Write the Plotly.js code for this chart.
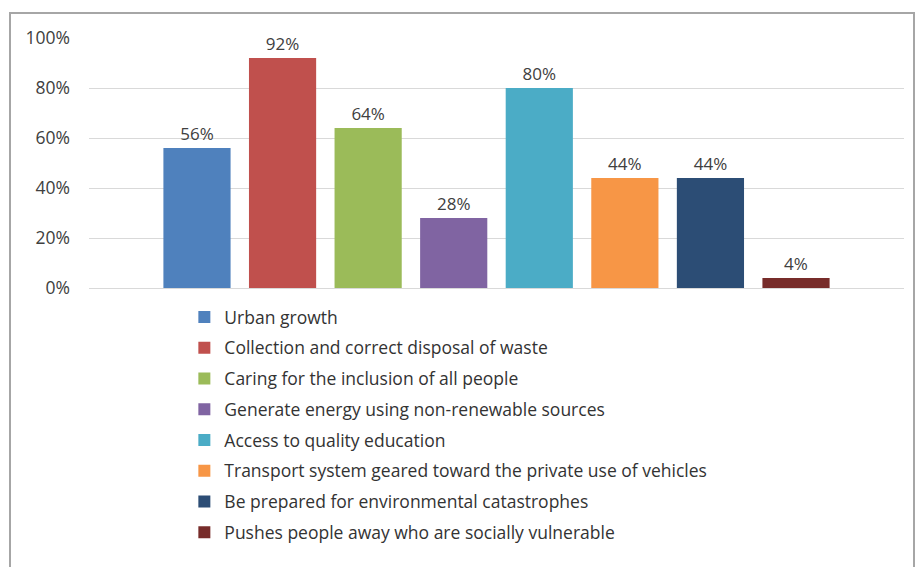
<!DOCTYPE html>
<html>
<head>
<meta charset="utf-8">
<script src="https://cdn.plot.ly/plotly-3.0.1.min.js"></script>
<style>html,body{margin:0;padding:0;background:#fff;}#chart{width:916px;height:567px;}</style>
</head>
<body>
<div id="chart"></div>
<script>
const seriesNames = [
  "Urban growth",
  "Collection and correct disposal of waste",
  "Caring for the inclusion of all people",
  "Generate energy using non-renewable sources",
  "Access to quality education",
  "Transport system geared toward the private use of vehicles",
  "Be prepared for environmental catastrophes",
  "Pushes people away who are socially vulnerable"
];
const seriesValues = [56, 92, 64, 28, 80, 44, 44, 4];
const seriesColors = ["#4f81bd", "#c0504d", "#9bbb59", "#8064a2", "#4bacc6", "#f79646", "#2c4d75", "#772c2a"];
const tickValues = [0, 20, 40, 60, 80, 100];
const tickLabels = ["0%", "20%", "40%", "60%", "80%", "100%"];

const fontFam = "'Open Sans', 'Liberation Sans', sans-serif";

const traces = seriesNames.map((n, i) => ({
  type: "bar",
  name: n,
  x: [""],
  y: [seriesValues[i]],
  marker: { color: seriesColors[i] },
  text: [seriesValues[i] + "%"],
  textposition: "outside",
  textfont: { family: fontFam, size: 17, color: "#404040" },
  cliponaxis: false,
  legendgroup: "g" + i,
  hoverinfo: "name+y"
}));

const layout = {
  width: 916,
  height: 567,
  margin: { l: 89, r: 12, t: 38, b: 279, autoexpand: false },
  paper_bgcolor: "#ffffff",
  plot_bgcolor: "#ffffff",
  barmode: "group",
  bargap: 0.16,
  bargroupgap: 0.215,
  showlegend: true,
  legend: {
    x: 0.117, xanchor: "left",
    y: -0.044, yanchor: "top",
    orientation: "v",
    traceorder: "grouped",
    tracegroupgap: 5,
    font: { family: fontFam, size: 17.5, color: "#333333" },
    bgcolor: "rgba(0,0,0,0)"
  },
  xaxis: {
    showticklabels: false,
    showgrid: false,
    zeroline: false,
    showline: false,
    fixedrange: true
  },
  yaxis: {
    range: [0, 100],
    tickvals: tickValues,
    ticktext: tickLabels,
    tickfont: { family: fontFam, size: 17.5, color: "#404040" },
    showgrid: true,
    gridcolor: "#d9d9d9",
    gridwidth: 1,
    zeroline: true,
    zerolinecolor: "#d9d9d9",
    zerolinewidth: 1,
    showline: false,
    ticks: "",
    ticklabelstandoff: 18
  },
  shapes: [{
    type: "rect",
    xref: "paper", yref: "paper",
    x0: (10 - 89) / 815, x1: (914 - 89) / 815,
    y0: (288 - 580) / 250, y1: (288 - 13) / 250,
    line: { color: "#a6a6a6", width: 2 },
    fillcolor: "rgba(0,0,0,0)",
    layer: "below"
  }]
};

Plotly.newPlot("chart", traces, layout, { displayModeBar: false, staticPlot: true });
</script>
</body>
</html>
